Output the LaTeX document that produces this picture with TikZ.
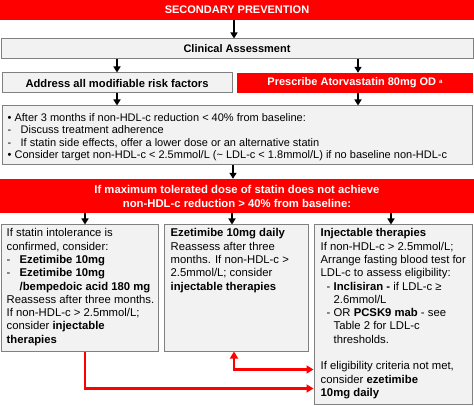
\documentclass[tikz,border=0pt]{standalone}
\usepackage{fontspec}
\setmainfont{Liberation Sans}
\usetikzlibrary{arrows.meta}
\definecolor{flowred}{RGB}{255,0,0}
\definecolor{boxgray}{RGB}{242,242,242}
\definecolor{edgegray}{RGB}{128,128,128}
\begin{document}
\begin{tikzpicture}[x=1pt,y=-1pt,
  redbar/.style={rectangle, fill=flowred, text=white, font=\fontsize{11}{13}\selectfont\bfseries, inner sep=0pt, align=center},
  graybox/.style={rectangle, fill=boxgray, draw=edgegray, line width=1pt, inner sep=0pt},
  boxtext/.style={anchor=north west, inner sep=0pt, align=left, font=\fontsize{11.3}{13.3}\selectfont},
  blk/.style={-{Triangle[width=7pt,length=6pt]}, line width=1.6pt, black},
  redarr/.style={-{Triangle[width=8pt,length=7pt]}, line width=2.2pt, flowred},
  redarr2/.style={{Triangle[width=8pt,length=7pt]}-{Triangle[width=8pt,length=7pt]}, line width=2.2pt, flowred}]
\useasboundingbox (0,0) rectangle (474,406);

\node[redbar, minimum width=474pt, minimum height=20pt] (banner) at (237,10) {SECONDARY PREVENTION};
\node[graybox, minimum width=472pt, minimum height=20pt, font=\fontsize{11}{13}\selectfont\bfseries] (clin) at (237,49) {Clinical Assessment};
\node[graybox, minimum width=230pt, minimum height=20pt, font=\fontsize{11.2}{13}\selectfont\bfseries] (addr) at (117,83) {Address all modifiable risk factors};
\node[redbar, minimum width=236pt, minimum height=20pt] (presc) at (355,83) {Prescribe Atorvastatin 80mg OD \raisebox{0.45ex}{\fontsize{6}{7}\selectfont a}};

\node[graybox, minimum width=470pt, minimum height=59pt] (bullet) at (237,135.5) {};
\node[boxtext, font=\fontsize{11}{12.2}\selectfont] (bullettext) at ([xshift=6pt,yshift=-8pt]bullet.north west) {%
\textbullet\ After 3 months if non-HDL-c reduction < 40\% from baseline:\\
\makebox[13pt][l]{-}Discuss treatment adherence\\
\makebox[13pt][l]{-}If statin side effects, offer a lower dose or an alternative statin\\
\textbullet\ Consider target non-HDL-c < 2.5mmol/L (\textasciitilde\ LDL-c < 1.8mmol/L) if no baseline non-HDL-c};

\node[redbar, minimum width=474pt, minimum height=34pt, font=\fontsize{11.3}{14}\selectfont\bfseries] (cond) at (237,196) {If maximum tolerated dose of statin does not achieve\\non-HDL-c reduction > 40\% from baseline:};

\node[graybox, minimum width=157pt, minimum height=126pt] (lbox) at (79.5,288) {};
\node[graybox, minimum width=144pt, minimum height=126pt] (mbox) at (236,288) {};
\node[graybox, minimum width=158pt, minimum height=179pt] (rbox) at (393,314.5) {};

\node[boxtext] (ltext) at ([xshift=6pt,yshift=-4pt]lbox.north west) {%
If statin intolerance is\\
confirmed, consider:\\
\makebox[13pt][l]{-}\textbf{Ezetimibe 10mg}\\
\makebox[13pt][l]{-}\textbf{Ezetimibe 10mg}\\
\hspace*{13pt}\textbf{/bempedoic acid 180 mg}\\
Reassess after three months.\\
If non-HDL-c > 2.5mmol/L;\\
consider \textbf{injectable}\\
\textbf{therapies}};

\node[boxtext] (mtext) at ([xshift=7pt,yshift=-4pt]mbox.north west) {%
\textbf{Ezetimibe 10mg daily}\\
Reassess after three\\
months. If non-HDL-c >\\
2.5mmol/L; consider\\
\textbf{injectable therapies}};

\node[boxtext] (rtext) at ([xshift=7pt,yshift=-4pt]rbox.north west) {%
\textbf{Injectable therapies}\\
If non-HDL-c > 2.5mmol/L;\\
Arrange fasting blood test for\\
LDL-c to assess eligibility:\\
\hspace*{6pt}\makebox[7pt][l]{-}\textbf{Inclisiran -} if LDL-c ≥\\
\hspace*{13pt}2.6mmol/L\\
\hspace*{6pt}\makebox[7pt][l]{-}OR \textbf{PCSK9 mab} - see\\
\hspace*{13pt}Table 2 for LDL-c\\
\hspace*{13pt}thresholds.\\[13.3pt]
If eligibility criteria not met,\\
consider \textbf{ezetimibe}\\
\textbf{10mg daily}};

% black arrows
\draw[blk] ([xshift=-3pt]banner.south) -- ([xshift=-3pt]clin.north);
\draw[blk] (addr.north |- clin.south) -- (addr.north);
\draw[blk] ([xshift=3pt]presc.north |- clin.south) -- ([xshift=3pt]presc.north);
\draw[blk] (addr.south) -- (addr.south |- bullet.north);
\draw[blk] ([xshift=3pt]presc.south) -- ([xshift=3pt]presc.south |- bullet.north);
\draw[blk] ([xshift=-4pt]bullet.south) -- ([xshift=-4pt]cond.north);
\draw[blk] ([xshift=5.5pt]lbox.north |- cond.south) -- ([xshift=5.5pt]lbox.north);
\draw[blk] ([xshift=-4pt]mbox.north |- cond.south) -- ([xshift=-4pt]mbox.north);
\draw[blk] ([xshift=-2pt]rbox.north |- cond.south) -- ([xshift=-2pt]rbox.north);

% red connectors
\draw[redarr] ([xshift=5.5pt]lbox.south) |- ([yshift=16pt]rbox.south west);
\draw[redarr2] ([xshift=-2pt]mbox.south) |- ([yshift=35pt]rbox.south west);
\end{tikzpicture}
\end{document}
